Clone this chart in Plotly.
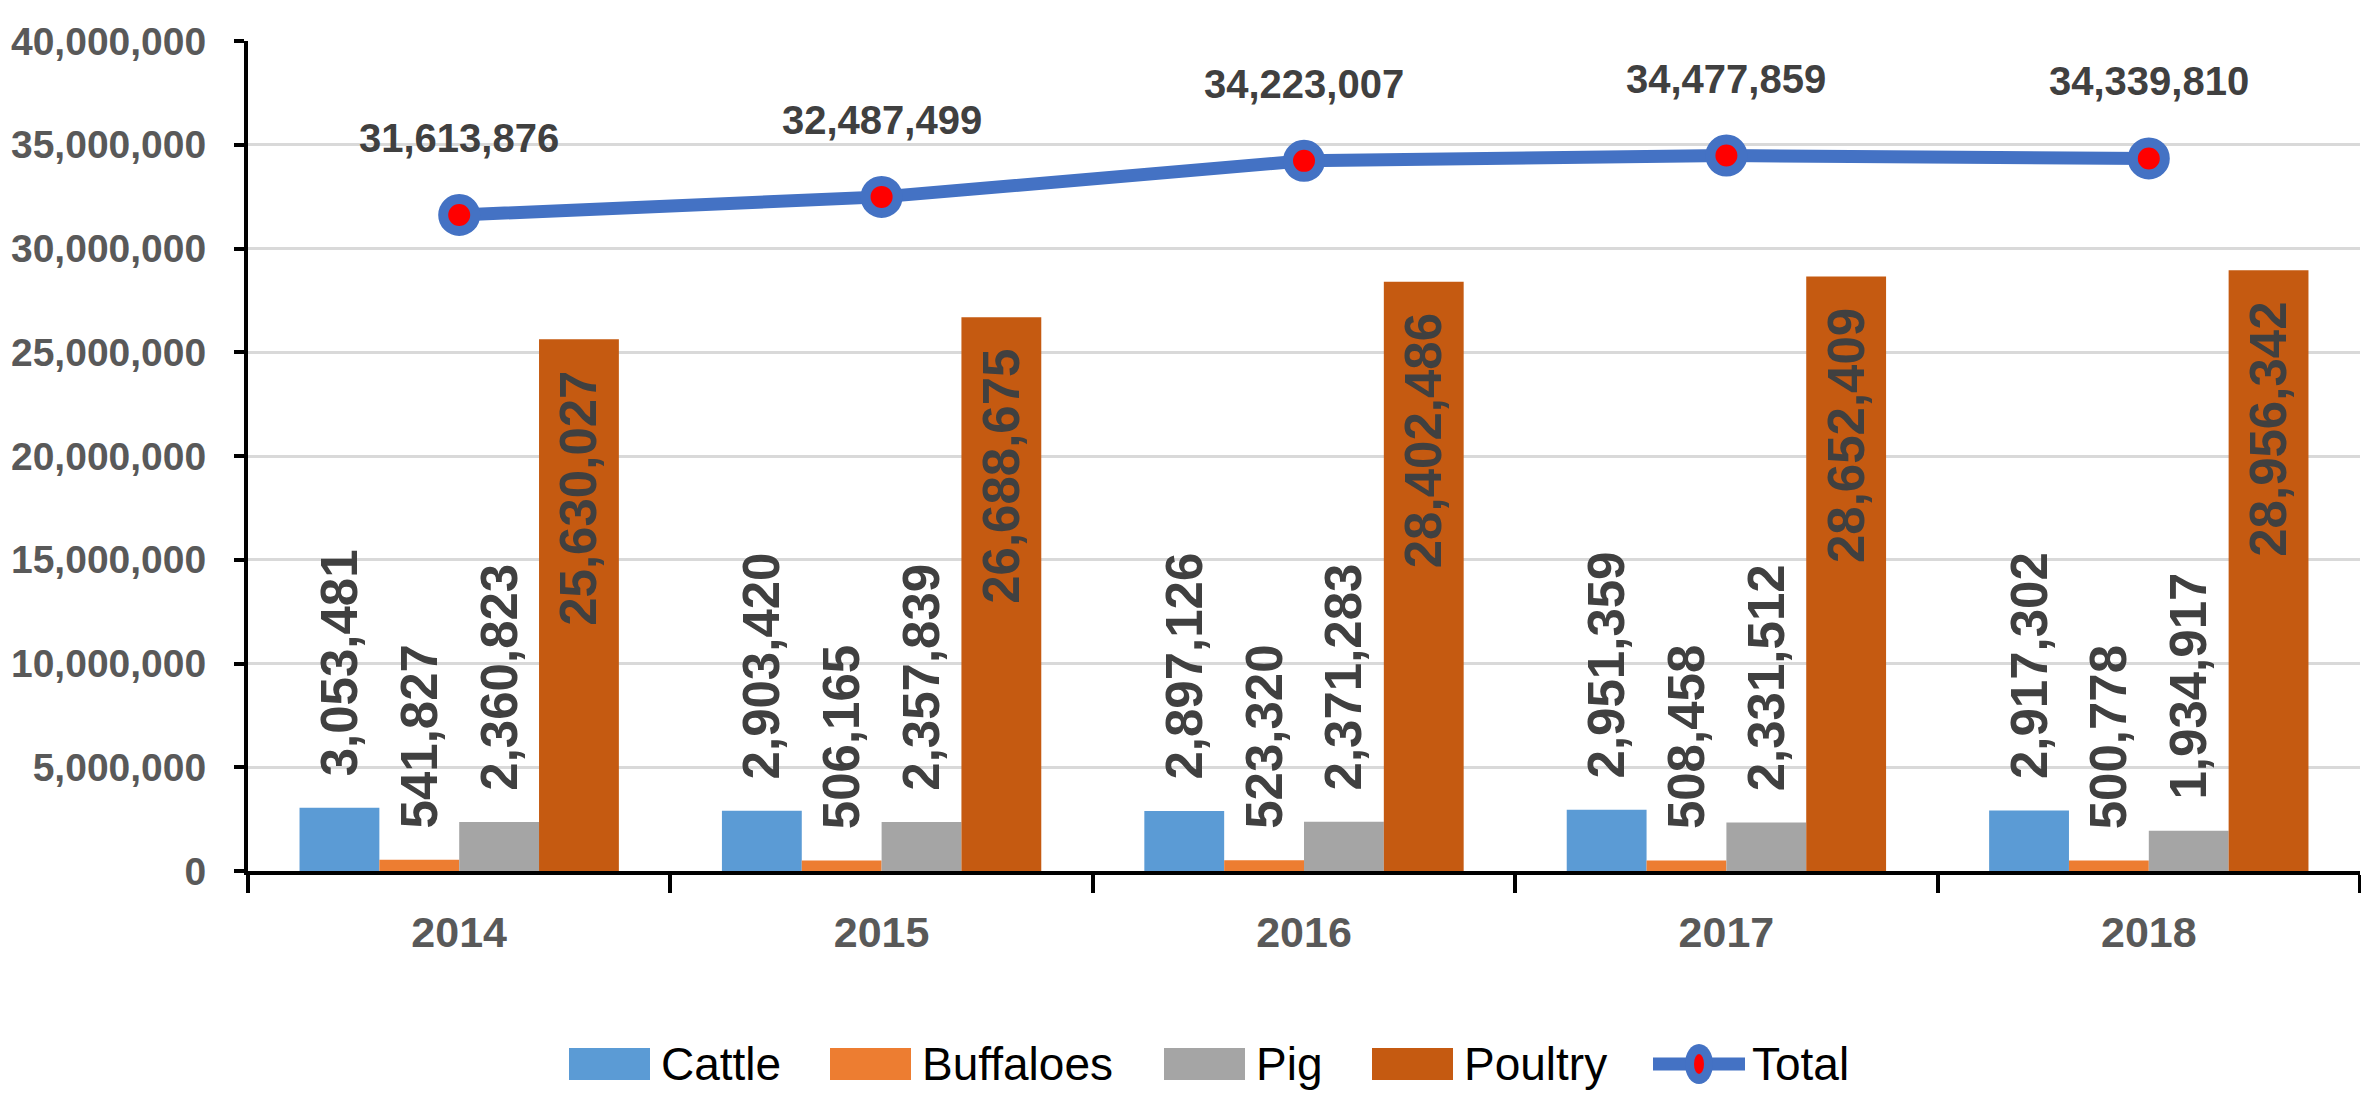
import plotly.graph_objects as go

years = ["2014", "2015", "2016", "2017", "2018"]
cattle = [3053481, 2903420, 2897126, 2951359, 2917302]
buffaloes = [541827, 506165, 523320, 508458, 500778]
pig = [2360823, 2357839, 2371283, 2331512, 1934917]
poultry = [25630027, 26688675, 28402486, 28652409, 28956342]
total = [31613876, 32487499, 34223007, 34477859, 34339810]

series_names = ["Cattle", "Buffaloes", "Pig", "Poultry"]
series_colors = ["#5B9BD5", "#ED7D31", "#A5A5A5", "#C55A11"]
total_color = "#4472C4"
marker_color = "#FF0000"

W, H = 2369, 1093
ML, MR, MT, MB = 240, 17, 33, 230
PW = W - ML - MR
PH = H - MT - MB

FONT = "Liberation Sans, Arial, sans-serif"
PAD = "\u00a0\u00a0"

def fmt(v):
    return f"{v:,}"

def bold(s):
    return f"<b>{s}</b>"

fig = go.Figure()
all_series = [cattle, buffaloes, pig, poultry]
for name, col, vals in zip(series_names, series_colors, all_series):
    inside = name == "Poultry"
    if inside:
        txt = [bold(fmt(v) + PAD) for v in vals]
    else:
        txt = [bold(PAD + fmt(v)) for v in vals]
    fig.add_trace(go.Bar(
        x=years, y=vals, name=name, marker=dict(color=col, line=dict(width=0)),
        text=txt, textangle=-90,
        textposition="inside" if inside else "outside",
        insidetextanchor="end",
        constraintext="none",
        textfont=dict(family=FONT, size=51, color="#404040"),
        cliponaxis=False, showlegend=False,
    ))

fig.add_trace(go.Scatter(
    x=years, y=total, mode="lines+markers", name="Total",
    line=dict(color=total_color, width=13),
    marker=dict(size=32, color=marker_color, line=dict(color=total_color, width=10)),
    cliponaxis=False, showlegend=False,
))

annotations = []
for i, v in enumerate(total):
    annotations.append(dict(
        x=i, y=v, xref="x", yref="y", text=bold(fmt(v)), showarrow=False,
        yshift=77, font=dict(family=FONT, size=40, color="#404040"),
    ))

# custom legend (layout, in pixels -> paper)
def px_x(p):
    return (p - ML) / PW

def px_y(p):
    return (MT + PH - p) / PH

legend_x = [561, 822, 1156, 1364, 1645]
legend_cy = 1056
shapes = []
for i, (name, col) in enumerate(zip(series_names, series_colors)):
    x0 = legend_x[i]
    shapes.append(dict(type="rect", xref="paper", yref="paper",
                       x0=px_x(x0), x1=px_x(x0 + 81),
                       y0=px_y(legend_cy - 16), y1=px_y(legend_cy + 16),
                       fillcolor=col, line=dict(width=0)))
    annotations.append(dict(x=px_x(x0 + 90), y=px_y(legend_cy), xref="paper", yref="paper",
                            text=name, showarrow=False, xanchor="left", yanchor="middle",
                            font=dict(family=FONT, size=46, color="#000000")))
x0 = legend_x[4]
shapes.append(dict(type="line", xref="paper", yref="paper",
                   x0=px_x(x0), x1=px_x(x0 + 92), y0=px_y(legend_cy), y1=px_y(legend_cy),
                   line=dict(color=total_color, width=13)))
shapes.append(dict(type="circle", xref="paper", yref="paper",
                   x0=px_x(x0 + 46 - 14), x1=px_x(x0 + 46 + 14),
                   y0=px_y(legend_cy - 20), y1=px_y(legend_cy + 20),
                   fillcolor=total_color, line=dict(width=0)))
shapes.append(dict(type="circle", xref="paper", yref="paper",
                   x0=px_x(x0 + 46 - 5), x1=px_x(x0 + 46 + 5),
                   y0=px_y(legend_cy - 10), y1=px_y(legend_cy + 10),
                   fillcolor=marker_color, line=dict(width=0)))
annotations.append(dict(x=px_x(x0 + 97), y=px_y(legend_cy), xref="paper", yref="paper",
                        text="Total", showarrow=False, xanchor="left", yanchor="middle",
                        font=dict(family=FONT, size=46, color="#000000")))

fig.update_layout(
    width=W, height=H,
    margin=dict(l=ML, r=MR, t=MT, b=MB, pad=0, autoexpand=False),
    paper_bgcolor="white", plot_bgcolor="white",
    barmode="group", bargap=0.244, bargroupgap=0,
    showlegend=False,
    annotations=annotations, shapes=shapes,
    xaxis=dict(
        type="category", range=[-0.5, len(years) - 0.5], automargin=False,
        showline=True, linecolor="black", linewidth=4,
        ticks="outside", tickson="boundaries", ticklen=18, tickwidth=4, tickcolor="black",
        showgrid=False, zeroline=False, tickangle=0,
        tickprefix="<b>", ticksuffix="</b>",
        tickfont=dict(family=FONT, size=43, color="#595959"),
        ticklabelstandoff=20,
    ),
    yaxis=dict(
        range=[0, 40000000], dtick=5000000, tickformat=",d", automargin=False,
        showline=True, linecolor="black", linewidth=4,
        ticks="outside", ticklen=10, tickwidth=4, tickcolor="black",
        showgrid=True, gridcolor="#D9D9D9", gridwidth=3, zeroline=False,
        tickprefix="<b>", ticksuffix="</b>",
        tickfont=dict(family=FONT, size=39, color="#595959"),
        ticklabelstandoff=20,
    ),
)

fig.write_html("out.html")
